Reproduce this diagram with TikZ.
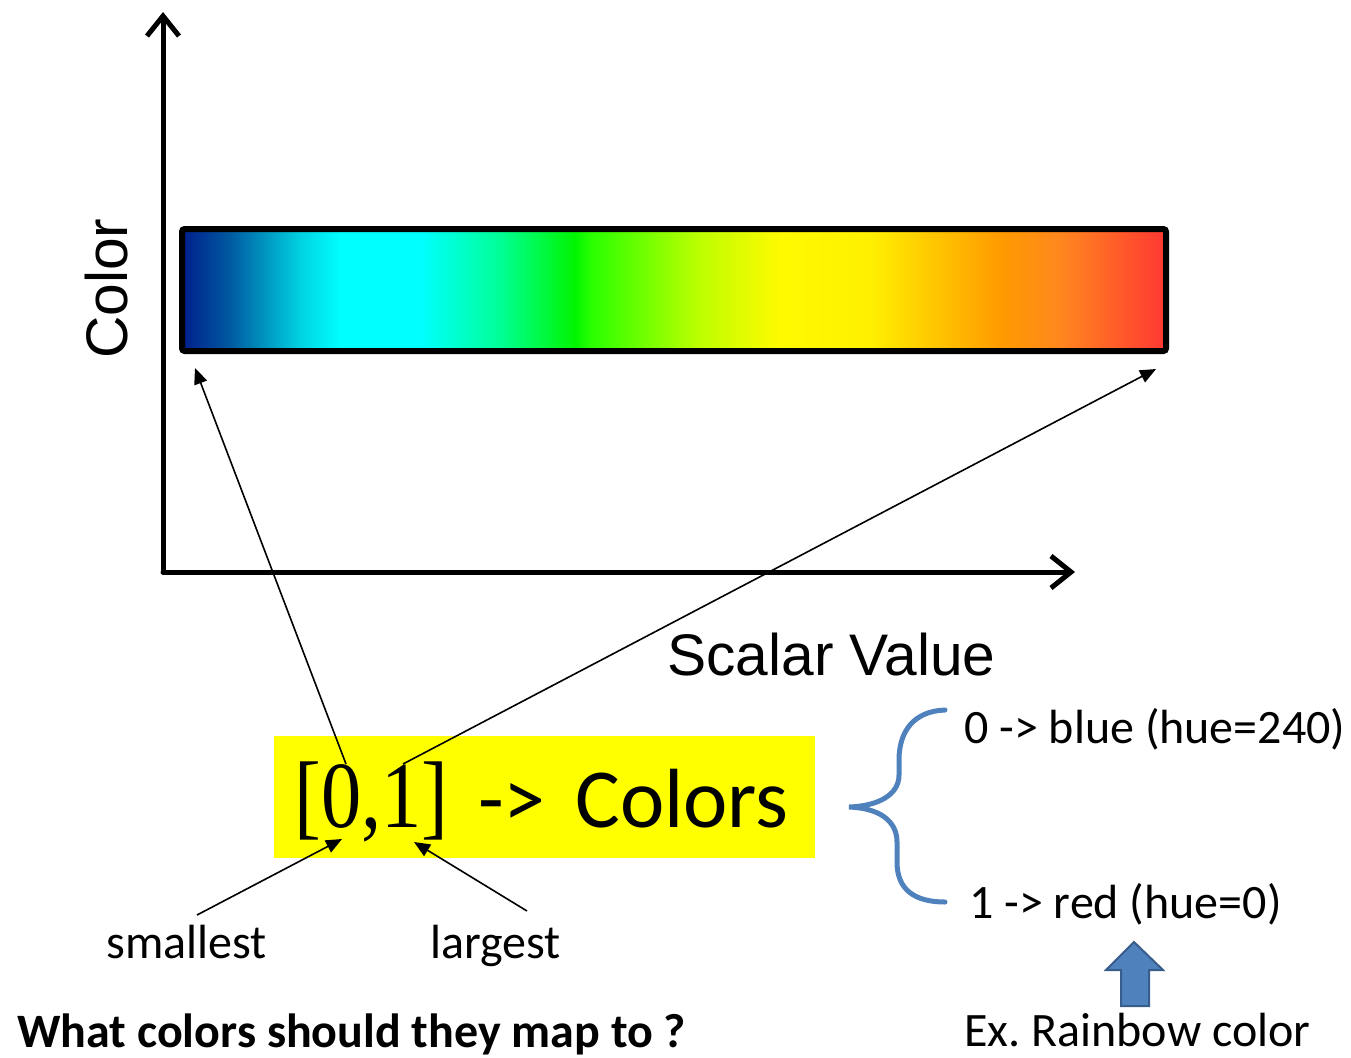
\documentclass[tikz,border=0pt]{standalone}
\usepackage{fontspec}
\setmainfont{Carlito}
\newfontfamily\arialf{Liberation Sans}
\newfontfamily\timesf[FakeStretch=0.85]{Liberation Serif}
\usetikzlibrary{arrows.meta}
\frenchspacing
\definecolor{r0}{RGB}{0,30,140}
\definecolor{r1}{RGB}{0,90,160}
\definecolor{r2}{RGB}{0,210,225}
\definecolor{r3}{RGB}{0,255,255}
\definecolor{r4}{RGB}{0,255,255}
\definecolor{r5}{RGB}{0,255,150}
\definecolor{r6}{RGB}{0,245,0}
\definecolor{r7}{RGB}{40,255,0}
\definecolor{r8}{RGB}{190,255,0}
\definecolor{r9}{RGB}{255,250,0}
\definecolor{r10}{RGB}{255,240,0}
\definecolor{r11}{RGB}{255,155,0}
\definecolor{r12}{RGB}{255,135,30}
\definecolor{r13}{RGB}{255,55,50}
\definecolor{officeblue}{RGB}{79,129,189}
\definecolor{darkblueedge}{RGB}{56,93,138}
\definecolor{hiyellow}{RGB}{255,255,0}
\pgfdeclarehorizontalshading{rainbowbar}{100bp}{color(0bp)=(r0); color(25bp)=(r0); color(27.44bp)=(r1); color(31bp)=(r2); color(33.03bp)=(r3); color(37.09bp)=(r4); color(41.16bp)=(r5); color(44.97bp)=(r6); color(45.73bp)=(r7); color(51.32bp)=(r8); color(55.39bp)=(r9); color(59.96bp)=(r10); color(66.57bp)=(r11); color(69.61bp)=(r12); color(75bp)=(r13); color(100bp)=(r13)}
\tikzset{
  axisline/.style={line width=3.75pt, line cap=round, line join=round, -{Straight Barb[length=15pt,width=24pt]}},
  thinarrow/.style={line width=1.2pt, -{Triangle[length=12pt,width=10pt]}},
  axislabel/.style={inner sep=0pt, font=\arialf\fontsize{44}{52}\selectfont},
  plain/.style={inner sep=0pt, font=\fontsize{36}{43}\selectfont},
  bracestyle/.style={draw=officeblue, line width=3.75pt, line cap=round},
}
\begin{document}
\begin{tikzpicture}[x=0.75pt,y=-0.75pt]
\useasboundingbox (0,0) rectangle (1351,1057);
% axes
\coordinate (origin) at (163,572);
\coordinate (ytip) at (163,12);
\coordinate (xtip) at (1075,572);
\draw[axisline] (origin) -- (ytip);
\draw[axisline] (origin) -- (xtip);
% colour bar
\shadedraw[shading=rainbowbar, draw=black, line width=4.5pt, rounded corners=2pt] (182,229) rectangle (1166,351);
\coordinate (barBL) at (195,368);
\coordinate (barBR) at (1156,369);
% axis labels
\node[axislabel, rotate=90, anchor=base west] (colorlab) at (127,359) {Color};
\node[axislabel, anchor=base west] (scalarlab) at (667,675) {Scalar Value};
% yellow box with mapping
\node[fill=hiyellow, minimum width=541*0.75pt, minimum height=122*0.75pt, inner sep=0pt, anchor=north west] (ybox) at (274,736) {};
\node[inner sep=0pt, anchor=base west, font=\fontsize{63}{70}\selectfont] (mapping) at (294,827) {{\timesf\fontsize{71}{80}\selectfont[0,1]}\hspace{8pt} ->\hspace{8pt} Colors};
\coordinate (zeroTop) at (346,764);
\coordinate (oneTop) at (403,764);
\coordinate (zeroBot) at (342,839);
\coordinate (oneBot) at (414,842);
\draw[thinarrow] (zeroTop) -- (barBL);
\draw[thinarrow] (oneTop) -- (barBR);
% smallest / largest
\node[plain, anchor=base west] (smallest) at (106,958) {smallest};
\node[plain, anchor=base west] (largest) at (430,958) {largest};
\coordinate (smallStart) at (197,915);
\coordinate (largeStart) at (527,911);
\draw[thinarrow] (smallStart) -- (zeroBot);
\draw[thinarrow] (largeStart) -- (oneBot);
% question
\node[plain, anchor=base west, font=\bfseries\fontsize{36}{43}\selectfont] (question) at (17,1047) {What colors should they map to ?};
% brace
\draw[bracestyle] (945,710) .. controls (915,711) and (899,730) .. (899,760) -- (899,775) .. controls (899,795) and (878,806) .. (849,807) .. controls (878,808) and (897,820) .. (897,842) -- (897,862) .. controls (897,890) and (915,902) .. (945,902);
\node[plain, anchor=base west] (bluemap) at (964,743) {0 -> blue (hue=240)};
\node[plain, anchor=base west] (redmap) at (969,918) {1 -> red (hue=0)};
% block arrow
\draw[fill=officeblue, draw=darkblueedge, line width=1.5pt, line join=miter] (1134,942) -- (1163,970) -- (1149,970) -- (1149,1006) -- (1121,1006) -- (1121,970) -- (1106,970) -- cycle;
\node[plain, anchor=base west] (rainbow) at (964,1046) {Ex. Rainbow color};
\end{tikzpicture}
\end{document}
